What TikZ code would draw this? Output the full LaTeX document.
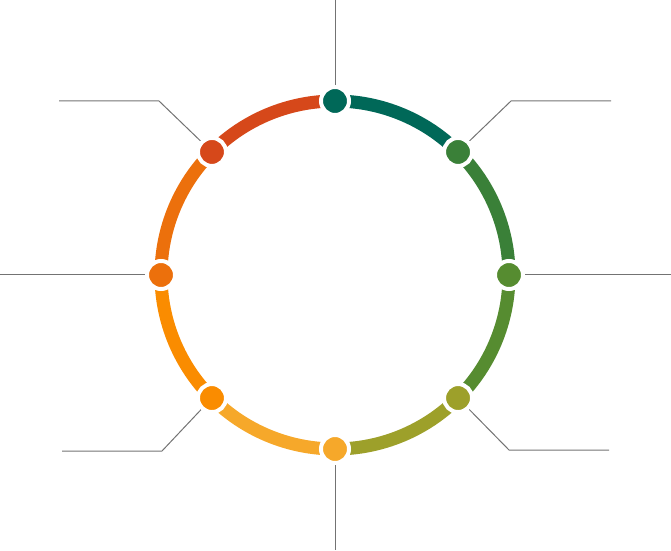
\documentclass[tikz,border=0pt]{standalone}
\usetikzlibrary{positioning,calc,backgrounds}

\definecolor{ringN}{RGB}{0,104,88}
\definecolor{ringNE}{RGB}{58,128,56}
\definecolor{ringE}{RGB}{86,140,48}
\definecolor{ringSE}{RGB}{157,160,42}
\definecolor{ringS}{RGB}{246,168,42}
\definecolor{ringSW}{RGB}{250,140,0}
\definecolor{ringW}{RGB}{236,112,12}
\definecolor{ringNW}{RGB}{214,72,26}
\definecolor{leadgray}{RGB}{115,115,115}

\begin{document}
\begin{tikzpicture}[
    x=0.75pt, y=0.75pt,
    dot/.style={
      circle,
      minimum size=21pt,
      inner sep=0pt,
      outer sep=0pt,
      draw=white,
      line width=3pt
    },
    segment/.style={
      line width=9.75pt
    },
    leader/.style={
      draw=leadgray,
      line width=0.75pt
    }
  ]

    \useasboundingbox (0,0) rectangle (671,550);
    \coordinate (center) at (335,275);

    % Dots on the ring
    \node (dotN)  [dot, fill=ringN]  at ($(center)+(90:174)$)   {};
    \node (dotNE) [dot, fill=ringNE] at ($(center)+(45:174)$)   {};
    \node (dotE)  [dot, fill=ringE]  at ($(center)+(0:174)$)    {};
    \node (dotSE) [dot, fill=ringSE] at ($(center)+(-45:174)$)  {};
    \node (dotS)  [dot, fill=ringS]  at ($(center)+(-90:174)$)  {};
    \node (dotSW) [dot, fill=ringSW] at ($(center)+(-135:174)$) {};
    \node (dotW)  [dot, fill=ringW]  at ($(center)+(180:174)$)  {};
    \node (dotNW) [dot, fill=ringNW] at ($(center)+(135:174)$)  {};

    % Leader end points
    \coordinate (endN)  at (335,550);
    \coordinate (endS)  at (335,0);
    \coordinate (endW)  at (0,275);
    \coordinate (endE)  at (671,275);
    \coordinate (kneeNW) at (159,449);
    \coordinate (endNW)  at (59,449);
    \coordinate (kneeNE) at (511,449);
    \coordinate (endNE)  at (611,449);
    \coordinate (kneeSW) at (162,99);
    \coordinate (endSW)  at (62,99);
    \coordinate (kneeSE) at (509,100);
    \coordinate (endSE)  at (609,100);

    \begin{scope}[on background layer]
    % Ring segments, each coloured like the dot it leaves clockwise
    \draw [segment, ringN]  (dotN.center)  arc[start angle=90,   end angle=45,   radius=174];
    \draw [segment, ringNE] (dotNE.center) arc[start angle=45,   end angle=0,    radius=174];
    \draw [segment, ringE]  (dotE.center)  arc[start angle=0,    end angle=-45,  radius=174];
    \draw [segment, ringSE] (dotSE.center) arc[start angle=-45,  end angle=-90,  radius=174];
    \draw [segment, ringS]  (dotS.center)  arc[start angle=-90,  end angle=-135, radius=174];
    \draw [segment, ringSW] (dotSW.center) arc[start angle=-135, end angle=-180, radius=174];
    \draw [segment, ringW]  (dotW.center)  arc[start angle=180,  end angle=135,  radius=174];
    \draw [segment, ringNW] (dotNW.center) arc[start angle=135,  end angle=90,   radius=174];

    % Leaders
    \draw [leader] (dotN)  -- (endN);
    \draw [leader] (dotS)  -- (endS);
    \draw [leader] (dotW)  -- (endW);
    \draw [leader] (dotE)  -- (endE);
    \draw [leader] (dotNW) -- (kneeNW) -- (endNW);
    \draw [leader] (dotNE) -- (kneeNE) -- (endNE);
    \draw [leader] (dotSW) -- (kneeSW) -- (endSW);
    \draw [leader] (dotSE) -- (kneeSE) -- (endSE);
    \end{scope}

  \end{tikzpicture}
\end{document}
